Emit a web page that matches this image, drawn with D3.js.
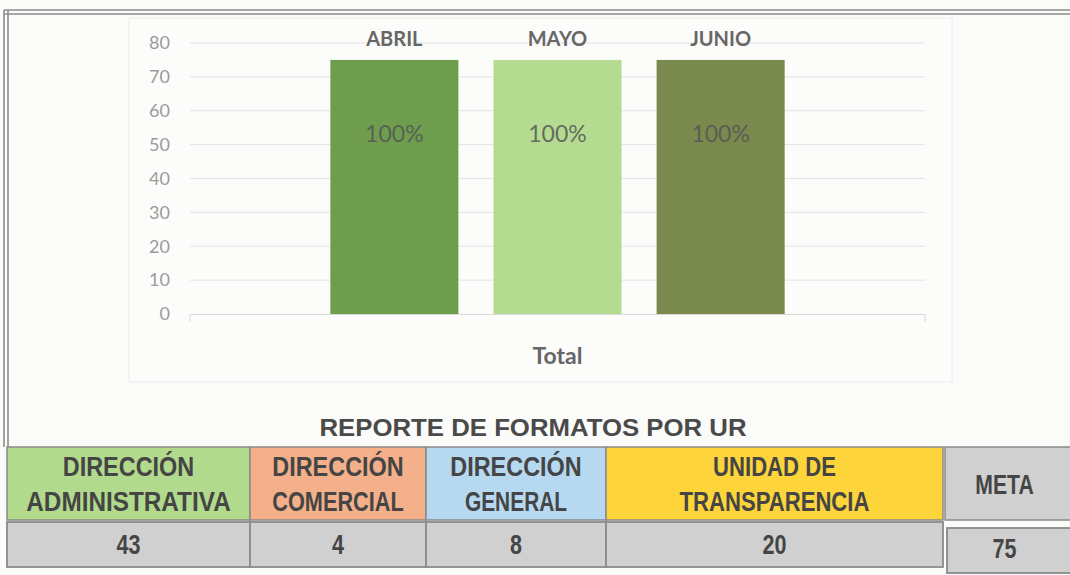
<!DOCTYPE html>
<html>
<head>
<meta charset="utf-8">
<script src="https://cdn.jsdelivr.net/npm/d3@7"></script>
<style>
  html, body { margin: 0; padding: 0; background: #fbfbf9; }
  svg { display: block; }
</style>
</head>
<body>
<svg id="chart" width="1070" height="575"></svg>
<script>
// ---------- DATA ----------
const category = ["Total"];
const months = ["ABRIL", "MAYO", "JUNIO"];
const monthValues = [75, 75, 75];
const monthLabels = ["100%", "100%", "100%"];
const yTicks = [0, 10, 20, 30, 40, 50, 60, 70, 80];
const tableTitle = "REPORTE DE FORMATOS POR UR";
const urNames = [["DIRECCIÓN", "ADMINISTRATIVA"], ["DIRECCIÓN", "COMERCIAL"], ["DIRECCIÓN", "GENERAL"], ["UNIDAD DE", "TRANSPARENCIA"]];
const urValues = [43, 4, 8, 20];
const metaName = "META";
const metaValue = 75;

// ---------- STYLE / LAYOUT ----------
const barColors = ["#6e9d4e", "#b4db8f", "#7a8a4e"];
const urColors = ["#b2da8c", "#f3b08a", "#b6d8f1", "#fdd53a"];
const cellGray = "#d0d0d0";
const colEdges = [7, 250, 426, 606, 943, 1070];
// approximate rendered widths of the condensed table text (px per character)
const hdrCharW = 14.6;

const svg = d3.select("#chart");
const chartFont = "Lato, 'Open Sans', sans-serif";
const tableFont = "'Liberation Sans Narrow', 'Liberation Sans', Arial, sans-serif";

// outer frame (double line)
const frame = svg.append("g");
[10, 14].forEach(y => frame.append("line").attr("x1", 4).attr("x2", 1070).attr("y1", y).attr("y2", y)
  .attr("stroke", "#8c8c8c").attr("stroke-width", 1.6));
[4, 8].forEach(x => frame.append("line").attr("x1", x).attr("x2", x).attr("y1", 10).attr("y2", 447)
  .attr("stroke", "#8c8c8c").attr("stroke-width", 1.6));

// chart area
svg.append("rect").attr("x", 129).attr("y", 18).attr("width", 823).attr("height", 364)
  .attr("fill", "#fcfcfb").attr("stroke", "#ececec").attr("stroke-width", 1);

const plot = { left: 190, right: 925, top: 43, bottom: 314 };
const y = d3.scaleLinear().domain([0, 80]).range([plot.bottom, plot.top]);
const x0 = d3.scaleBand().domain(category).range([plot.left, plot.right]).paddingInner(0.236).paddingOuter(0.236);
const x1 = d3.scaleBand().domain(months).range([0, x0.bandwidth()]).paddingInner(0.215);

// gridlines
svg.append("g").selectAll("line").data(yTicks.filter(d => d > 0)).join("line")
  .attr("x1", plot.left).attr("x2", plot.right)
  .attr("y1", d => y(d)).attr("y2", d => y(d))
  .attr("stroke", "#e3e3e3").attr("stroke-width", 1);

// y axis labels
const yAxis = d3.axisLeft(y).tickValues(yTicks).tickSize(0).tickPadding(0);
const yg = svg.append("g").attr("transform", `translate(170,0)`).call(yAxis);
yg.select(".domain").remove();
yg.selectAll("text").attr("font-family", chartFont).attr("font-size", 18).attr("fill", "#9b9b9b");

// x axis
const xAxis = d3.axisBottom(x0).tickSize(0).tickFormat(() => "");
const xg = svg.append("g").attr("transform", `translate(0,${plot.bottom})`).call(xAxis);
xg.select(".domain").attr("stroke", "#d9d9d9");
[plot.left, plot.right].forEach(xx => svg.append("line").attr("x1", xx).attr("x2", xx)
  .attr("y1", plot.bottom).attr("y2", plot.bottom + 8).attr("stroke", "#d9d9d9"));

// bars
const g = svg.append("g").attr("transform", `translate(${x0("Total")},0)`);
const bars = months.map((m, i) => ({ m, v: monthValues[i], lab: monthLabels[i], c: barColors[i] }));
g.selectAll("rect").data(bars).join("rect")
  .attr("x", d => x1(d.m)).attr("width", x1.bandwidth())
  .attr("y", d => y(d.v)).attr("height", d => y(0) - y(d.v))
  .attr("fill", d => d.c);

// series names above bars
g.selectAll("text.sname").data(bars).join("text").attr("class", "sname")
  .attr("x", d => x1(d.m) + x1.bandwidth() / 2).attr("y", 38)
  .attr("text-anchor", "middle").attr("dominant-baseline", "central")
  .attr("font-family", chartFont).attr("font-weight", "bold").attr("font-size", 20)
  .attr("fill", "#676767").text(d => d.m);

// value labels
g.selectAll("text.vlab").data(bars).join("text").attr("class", "vlab")
  .attr("x", d => x1(d.m) + x1.bandwidth() / 2).attr("y", d => y(d.v) + 73)
  .attr("text-anchor", "middle").attr("dominant-baseline", "central")
  .attr("font-family", chartFont).attr("font-size", 23)
  .attr("fill", "#555555").attr("fill-opacity", 0.85).text(d => d.lab);

// category label
svg.append("text").attr("x", x0("Total") + x0.bandwidth() / 2).attr("y", 355)
  .attr("text-anchor", "middle").attr("dominant-baseline", "central")
  .attr("font-family", chartFont).attr("font-weight", "bold").attr("font-size", 23)
  .attr("fill", "#666").text(category[0]);

// ---------- TABLE ----------
svg.append("text").attr("x", 533).attr("y", 427)
  .attr("text-anchor", "middle").attr("dominant-baseline", "central")
  .attr("font-family", tableFont).attr("font-weight", "bold").attr("font-size", 24)
  .attr("fill", "#4a4a4a").attr("textLength", 427).attr("lengthAdjust", "spacingAndGlyphs")
  .text(tableTitle);

const hdrTop = 447, hdrBot = 520, valTop = 522, valBot = 567;
const cols = urNames.map((n, i) => ({ name: n, value: urValues[i], color: urColors[i], x0: colEdges[i], x1: colEdges[i + 1] }));
cols.push({ name: [metaName], value: metaValue, color: cellGray, x0: colEdges[4] + 2, x1: colEdges[5] + 2 });

const tg = svg.append("g");
tg.selectAll("rect.hdr").data(cols).join("rect").attr("class", "hdr")
  .attr("x", d => d.x0).attr("y", hdrTop).attr("width", d => d.x1 - d.x0).attr("height", hdrBot - hdrTop)
  .attr("fill", d => d.color).attr("stroke", "#8a8a8a").attr("stroke-width", 1.5);
tg.selectAll("rect.val").data(cols).join("rect").attr("class", "val")
  .attr("x", (d, i) => d.x0 + (i === 4 ? 2 : 0)).attr("y", (d, i) => valTop + (i === 4 ? 6 : 0))
  .attr("width", (d, i) => d.x1 - d.x0 - (i === 4 ? 2 : 0)).attr("height", (d, i) => valBot - valTop)
  .attr("fill", cellGray).attr("stroke", "#8a8a8a").attr("stroke-width", 1.8);

cols.forEach((d, i) => {
  const cx = (d.x0 + d.x1) / 2 + (i === 4 ? -4 : 0);
  const lines = d.name;
  const lh = 35;
  const startY = (hdrTop + hdrBot) / 2 - (lines.length - 1) * lh / 2;
  lines.forEach((t, j) => {
    const w = t.replace(/ /g, "").length * hdrCharW + (t.split(" ").length - 1) * 6;
    tg.append("text").attr("x", cx).attr("y", startY + j * lh + 1)
      .attr("text-anchor", "middle").attr("dominant-baseline", "central")
      .attr("font-family", tableFont).attr("font-weight", "bold").attr("font-size", 27)
      .attr("fill", "#454545").attr("textLength", w).attr("lengthAdjust", "spacingAndGlyphs").text(t);
  });
  const vs = String(d.value);
  tg.append("text").attr("x", cx).attr("y", (valTop + valBot) / 2 + (i === 4 ? 4 : 0))
    .attr("text-anchor", "middle").attr("dominant-baseline", "central")
    .attr("font-family", tableFont).attr("font-weight", "bold").attr("font-size", 27)
    .attr("fill", "#454545").attr("textLength", vs.length * 12).attr("lengthAdjust", "spacingAndGlyphs").text(vs);
});
</script>
</body>
</html>
